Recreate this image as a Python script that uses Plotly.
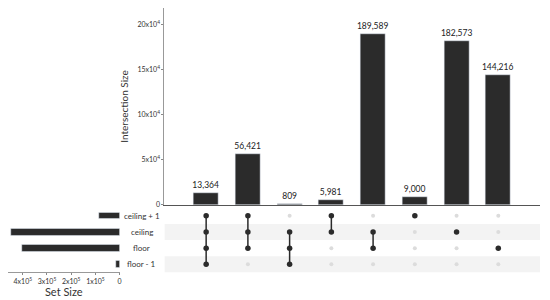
import plotly.graph_objects as go

# ---- data ----
set_names = ["floor - 1", "floor", "ceiling", "ceiling + 1"]  # bottom -> top rows
intersection_sizes = [13364, 56421, 809, 5981, 189589, 9000, 182573, 144216]
# membership per intersection column (names of sets involved)
memberships = [
    ["ceiling + 1", "ceiling", "floor", "floor - 1"],
    ["ceiling + 1", "ceiling", "floor"],
    ["ceiling", "floor", "floor - 1"],
    ["ceiling + 1", "ceiling"],
    ["ceiling", "floor"],
    ["ceiling + 1"],
    ["ceiling"],
    ["floor"],
]
bar_ticks = [0, 50000, 100000, 150000, 200000]
bar_ticktext = ["0", "5x10<sup>4</sup>", "10x10<sup>4</sup>", "15x10<sup>4</sup>", "20x10<sup>4</sup>"]
set_ticks = [0, 100000, 200000, 300000, 400000]
set_ticktext = ["0", "1x10<sup>5</sup>", "2x10<sup>5</sup>", "3x10<sup>5</sup>", "4x10<sup>5</sup>"]

set_sizes = [sum(s for s, m in zip(intersection_sizes, memberships) if n in m) for n in set_names]

# page offset (body margin) compensation
OFF = 8
W, H = 550 - OFF, 300 - OFF
def px(x):
    return (x - OFF) / W
def py(y):
    return 1 - (y - OFF) / H

FONT = "Lato"
DARK = "#2b2b2b"
cols = list(range(len(intersection_sizes)))
row_of = {n: i for i, n in enumerate(set_names)}

fig = go.Figure()

# intersection bars
fig.add_trace(go.Bar(
    x=cols, y=intersection_sizes, marker_color=DARK, width=0.6,
    texttemplate="%{y:,}", textposition="outside", cliponaxis=False, constraintext="none",
    textfont=dict(size=8.5, color="#222"), xaxis="x", yaxis="y",
))

# matrix dots and connectors
ex, ey, fx, fy = [], [], [], []
lx, ly = [], []
for c, m in zip(cols, memberships):
    rows = [row_of[n] for n in m]
    for r in range(len(set_names)):
        if r in rows:
            fx.append(c); fy.append(r)
        else:
            ex.append(c); ey.append(r)
    if len(rows) > 1:
        lx += [c, c, None]; ly += [min(rows), max(rows), None]

fig.add_trace(go.Scatter(x=ex, y=ey, mode="markers", marker=dict(size=4, color="#dcdcdc"),
                         xaxis="x2", yaxis="y2", hoverinfo="skip"))
fig.add_trace(go.Scatter(x=lx, y=ly, mode="lines", line=dict(color=DARK, width=1.5),
                         xaxis="x2", yaxis="y2", hoverinfo="skip"))
fig.add_trace(go.Scatter(x=fx, y=fy, mode="markers", marker=dict(size=5.5, color=DARK),
                         xaxis="x2", yaxis="y2"))

# set size bars
fig.add_trace(go.Bar(
    x=set_sizes, y=list(range(len(set_names))), orientation="h", marker_color=DARK,
    width=0.42, xaxis="x3", yaxis="y3",
))

# stripes
shapes = []
for i, n in enumerate(set_names):
    if n in ("ceiling", "floor - 1"):
        shapes.append(dict(type="rect", xref="x2", yref="y2", x0=-1, x1=8, y0=i - 0.5, y1=i + 0.5,
                           fillcolor="#f3f3f3", line_width=0, layer="below"))

annotations = [dict(text=n, x=px(142), xref="paper", y=i, yref="y2", showarrow=False,
                    font=dict(size=8, color="#333"), xanchor="center")
               for i, n in enumerate(set_names)]

xdom = [px(165), px(542)]
mdom = [py(275.2), py(209.8)]
ymax = 200000 * (207 - 8) / (207 - 25)

fig.update_layout(
    width=W, height=H, margin=dict(l=0, r=0, t=0, b=0),
    paper_bgcolor="white", plot_bgcolor="rgba(0,0,0,0)",
    font=dict(family=FONT, color="#333"), showlegend=False, bargap=0,
    shapes=shapes, annotations=annotations,
    xaxis=dict(domain=xdom, range=[-1, 8], showticklabels=False, ticks="", showgrid=False,
               zeroline=False, showline=True, linecolor="#555", linewidth=1, anchor="y"),
    yaxis=dict(domain=[py(207), py(8)], range=[0, ymax], tickvals=bar_ticks,
               ticktext=bar_ticktext, ticks="outside", ticklen=2, tickcolor="#888",
               tickfont=dict(size=7, color="#333"), showgrid=False, zeroline=False,
               showline=True, linecolor="#999", linewidth=1, anchor="x",
               title=dict(text="Intersection Size", font=dict(size=10, color="#333"), standoff=6)),
    xaxis2=dict(domain=xdom, range=[-1, 8], visible=False, anchor="y2"),
    yaxis2=dict(domain=mdom, range=[-0.5, 3.5], visible=False, anchor="x2"),
    xaxis3=dict(domain=[px(8), px(120)], range=[461000, 0], tickvals=set_ticks,
                ticktext=set_ticktext, ticks="outside", ticklen=2, tickcolor="#888",
                tickfont=dict(size=7, color="#333"), showgrid=False, zeroline=False,
                showline=True, linecolor="#999", linewidth=1, anchor="y3",
                title=dict(text="Set Size", font=dict(size=11, color="#333"), standoff=2)),
    yaxis3=dict(domain=mdom, range=[-0.5, 3.5], visible=False, anchor="x3"),
)

fig.write_html("out.html")
